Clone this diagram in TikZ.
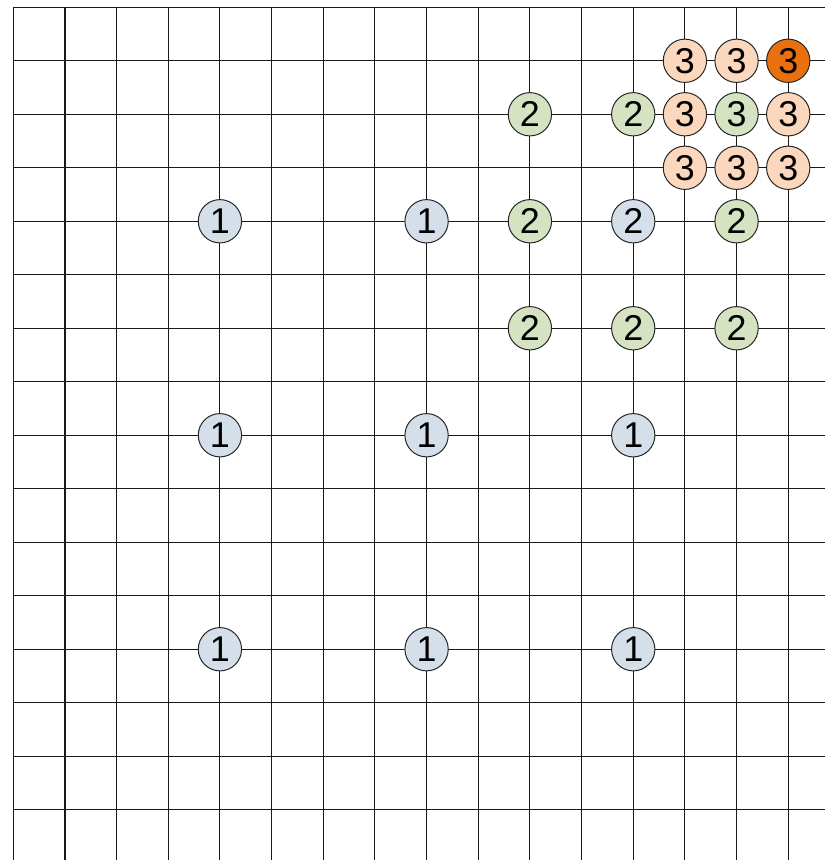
\documentclass[tikz,border=0pt]{standalone}
\usepackage{fontspec}
\setmainfont{Liberation Sans}
\definecolor{lblue}{HTML}{D5DFEA}
\definecolor{lgreen}{HTML}{D6E3C2}
\definecolor{lpeach}{HTML}{FBD8BD}
\definecolor{dorange}{HTML}{E8700F}
\tikzset{
	stone/.style={circle, draw=black!85, line width=0.75pt, minimum size=1.146cm, inner sep=0pt, font=\fontsize{27}{30}\selectfont},
	one/.style={stone, fill=lblue},
	two/.style={stone, fill=lgreen},
	three/.style={stone, fill=lpeach},
	top/.style={stone, fill=dorange}
}
\begin{document}
\begin{tikzpicture}[x=1.367cm, y=-1.4155cm]
		\fill[white] (-0.257,-0.136) rectangle (15.71,15.94);
		\useasboundingbox (-0.257,-0.136) rectangle (15.71,15.94);
		% grid
		\foreach \i in {0,...,15}
			\draw[black!90, line width=0.85pt] (\i,0) -- (\i,15.94);
		\foreach \j in {0,...,15}
			\draw[black!90, line width=0.85pt] (0,\j) -- (15.71,\j);

		% level 1
		\foreach \i/\j in {4/4, 8/4, 4/8, 8/8, 12/8, 4/12, 8/12, 12/12}
			\node[one] (a\i-\j) at (\i,\j) {1};
		\node[one] (b12-4) at (12,4) {2};

		% level 2
		\foreach \i/\j in {10/2, 12/2, 10/4, 14/4, 10/6, 12/6, 14/6}
			\node[two] (b\i-\j) at (\i,\j) {2};
		\node[two] (c14-2) at (14,2) {3};

		% level 3
		\foreach \i/\j in {13/1, 14/1, 13/2, 15/2, 13/3, 14/3, 15/3}
			\node[three] (c\i-\j) at (\i,\j) {3};
		\node[top] (c15-1) at (15,1) {3};
	\end{tikzpicture}
\end{document}
